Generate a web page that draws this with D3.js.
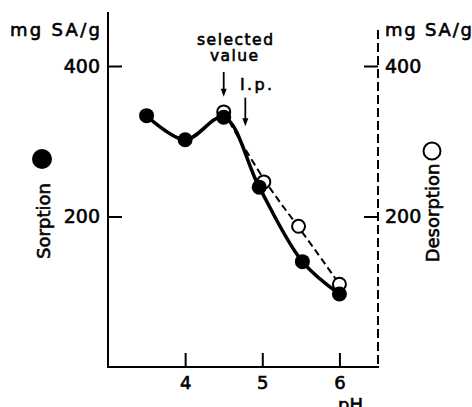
<!DOCTYPE html>
<html>
<head>
<meta charset="utf-8">
<script src="https://cdn.jsdelivr.net/npm/d3@7"></script>
<style>
  body { margin: 0; background: #fff; }
  text { font-family: "DejaVu Sans", sans-serif; fill: #000; stroke: #000; stroke-width: 0.6px; }
</style>
</head>
<body>
<script>
// values
var sorpPH = [3.5, 4.0, 4.5, 4.96, 5.52, 6.0];
var sorpVal = [334, 302, 332, 239, 140, 97];
var desPH = [4.5, 5.02, 5.47, 6.0];
var desVal = [339, 246, 187, 110];
var xTicks = [4, 5, 6];
var yTicks = [200, 400];

var w = 472, h = 407;

var svg = d3.select("body")
  .append("svg")
  .attr("width", w)
  .attr("height", h);

var x = d3.scaleLinear().domain([3, 6.5]).range([108, 378]);
var y = d3.scaleLinear().domain([0, 400]).range([367, 66]);

var sorp = sorpPH.map(function(p, i) { return [p, sorpVal[i]]; });
var des = desPH.map(function(p, i) { return [p, desVal[i]]; });

// axes frame
svg.append("line")
  .attr("x1", x(3)).attr("x2", x(3))
  .attr("y1", 12).attr("y2", y(0))
  .attr("stroke", "#000").attr("stroke-width", 2);
svg.append("line")
  .attr("x1", x(3) - 1).attr("x2", x(6.5) + 1)
  .attr("y1", y(0)).attr("y2", y(0))
  .attr("stroke", "#000").attr("stroke-width", 2);
svg.append("line")
  .attr("x1", x(6.5)).attr("x2", x(6.5))
  .attr("y1", 30).attr("y2", y(0))
  .attr("stroke", "#000").attr("stroke-width", 2)
  .attr("stroke-dasharray", "9,4");

// bottom ticks
var xAxis = d3.axisBottom(x).tickValues(xTicks).tickSize(-14).tickPadding(22)
  .tickFormat(d3.format("d"));
var gx = svg.append("g").attr("transform", "translate(0," + y(0) + ")").call(xAxis);
gx.select(".domain").remove();
gx.selectAll("line").attr("stroke-width", 2);
gx.selectAll("text").attr("font-size", 18).attr("dy", 0);

// left ticks
var yAxisL = d3.axisLeft(y).tickValues(yTicks).tickSize(-14).tickPadding(8);
var gl = svg.append("g").attr("transform", "translate(" + x(3) + ",0)").call(yAxisL);
gl.select(".domain").remove();
gl.selectAll("line").attr("stroke-width", 2);
gl.selectAll("text").attr("font-size", 19).attr("x", -8);

// right ticks
var yAxisR = d3.axisRight(y).tickValues(yTicks).tickSize(-14).tickPadding(8);
var gr = svg.append("g").attr("transform", "translate(" + x(6.5) + ",0)").call(yAxisR);
gr.select(".domain").remove();
gr.selectAll("line").attr("stroke-width", 2);
gr.selectAll("text").attr("font-size", 19).attr("x", 7);

// units
svg.append("text").attr("x", 10).attr("y", 36)
  .attr("font-size", 18).attr("textLength", 90).text("mg SA/g");
svg.append("text").attr("x", 385).attr("y", 36)
  .attr("font-size", 18).attr("textLength", 87).text("mg SA/g");
svg.append("text").attr("x", 338).attr("y", 411)
  .attr("font-size", 18).text("pH");

// curves
var line = d3.line()
  .x(function(d) { return x(d[0]); })
  .y(function(d) { return y(d[1]); });

svg.append("path")
  .attr("d", line.curve(d3.curveBasis)(des))
  .attr("fill", "none").attr("stroke", "#000")
  .attr("stroke-width", 2).attr("stroke-dasharray", "7,4");

svg.append("path")
  .attr("d", line.curve(d3.curveCatmullRom.alpha(0.5))(sorp))
  .attr("fill", "none").attr("stroke", "#000")
  .attr("stroke-width", 3.5);

svg.selectAll("circle.des")
  .data(des)
  .enter()
  .append("circle")
  .attr("class", "des")
  .attr("cx", function(d) { return x(d[0]); })
  .attr("cy", function(d) { return y(d[1]); })
  .attr("r", 6.5)
  .attr("fill", "#fff").attr("stroke", "#000").attr("stroke-width", 2);

svg.selectAll("circle.sorp")
  .data(sorp)
  .enter()
  .append("circle")
  .attr("class", "sorp")
  .attr("cx", function(d) { return x(d[0]); })
  .attr("cy", function(d) { return y(d[1]); })
  .attr("r", 7.5)
  .attr("fill", "#000");

// legend labels
svg.append("circle").attr("cx", 42).attr("cy", 159).attr("r", 10).attr("fill", "#000");
svg.append("text")
  .attr("transform", "translate(50,221) rotate(-90)")
  .attr("text-anchor", "middle").attr("font-size", 18).text("Sorption");

svg.append("circle").attr("cx", 432).attr("cy", 151).attr("r", 8.5)
  .attr("fill", "none").attr("stroke", "#000").attr("stroke-width", 2);
svg.append("text")
  .attr("transform", "translate(439,213) rotate(-90)")
  .attr("text-anchor", "middle").attr("font-size", 18).text("Desorption");

// annotations
svg.append("text").attr("x", 197).attr("y", 45)
  .attr("font-size", 15.5).attr("textLength", 76).text("selected");
svg.append("text").attr("x", 210).attr("y", 61)
  .attr("font-size", 15.5).attr("textLength", 48).text("value");
svg.append("text").attr("x", 240).attr("y", 90)
  .attr("font-size", 16).attr("textLength", 32).text("I.p.");

function arrow(px, v1, v2) {
  var ax = x(px), y1 = y(v1), y2 = y(v2);
  svg.append("line").attr("x1", ax).attr("x2", ax).attr("y1", y1).attr("y2", y2 - 6)
    .attr("stroke", "#000").attr("stroke-width", 1.8);
  svg.append("path")
    .attr("d", "M" + (ax - 3) + "," + (y2 - 8) + "L" + (ax + 3) + "," + (y2 - 8) + "L" + ax + "," + y2 + "Z")
    .attr("fill", "#000");
}
arrow(4.5, 392, 359);
arrow(4.78, 358, 320);
</script>
</body>
</html>
